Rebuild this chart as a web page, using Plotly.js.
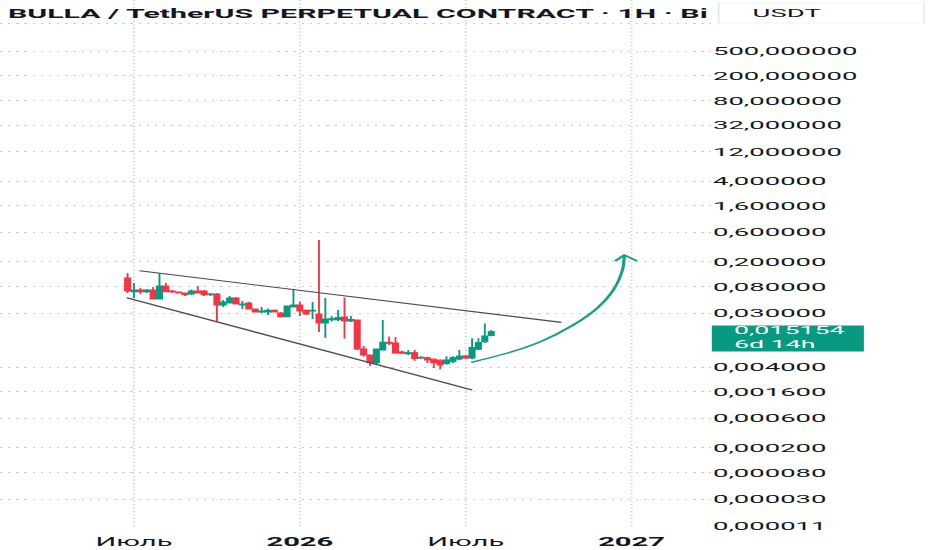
<!DOCTYPE html>
<html>
<head>
<meta charset="utf-8">
<script src="https://cdn.plot.ly/plotly-3.0.1.min.js"></script>
<style>
  html, body { margin: 0; padding: 0; background: #ffffff; overflow: hidden; }
  #wrap { width: 400px; height: 550px; transform: scaleX(2.33); transform-origin: 0 0; }
</style>
</head>
<body>
<div id="wrap"></div>
<script>
// ---- data (weekly candles, BULLA/USDT) ----
const dates = [
  '2025-06-30','2025-07-07','2025-07-14','2025-07-21','2025-07-28','2025-08-04','2025-08-11','2025-08-18',
  '2025-08-25','2025-09-01','2025-09-08','2025-09-15','2025-09-22','2025-09-29','2025-10-06','2025-10-13',
  '2025-10-20','2025-10-27','2025-11-03','2025-11-10','2025-11-17','2025-11-24','2025-12-01','2025-12-08',
  '2025-12-15','2025-12-22','2025-12-29','2026-01-05','2026-01-12','2026-01-19','2026-01-26','2026-02-02',
  '2026-02-09','2026-02-16','2026-02-23','2026-03-02','2026-03-09','2026-03-16','2026-03-23','2026-03-30',
  '2026-04-06','2026-04-13','2026-04-20','2026-04-27','2026-05-04','2026-05-11','2026-05-18','2026-05-25',
  '2026-06-01','2026-06-08','2026-06-15','2026-06-22','2026-06-29','2026-07-06','2026-07-13','2026-07-20',
  '2026-07-27','2026-08-03'
];
const opens = [
  0.110, 0.0655, 0.0705, 0.0655, 0.0705, 0.0505, 0.0818, 0.0679,
  0.0655, 0.0631, 0.0608, 0.0679, 0.0679, 0.0586, 0.0608, 0.0404,
  0.0435, 0.0524, 0.0404, 0.0435, 0.0348, 0.0311, 0.0311, 0.0335,
  0.0300, 0.0259, 0.0375, 0.0404, 0.0335, 0.0323, 0.0289, 0.0207,
  0.0232, 0.0232, 0.0259, 0.0223, 0.0232, 0.00788, 0.0063, 0.00469,
  0.00759, 0.0102, 0.00984, 0.0071, 0.00655, 0.0069, 0.0056, 0.0057,
  0.0054, 0.0052, 0.0046, 0.0049, 0.0054, 0.0061, 0.0056, 0.0078,
  0.0103, 0.0129
];
const highs = [
  0.1325, 0.0914, 0.0759, 0.0732, 0.0788, 0.1325, 0.0914, 0.0705,
  0.0667, 0.0631, 0.0720, 0.0818, 0.0705, 0.0631, 0.0631, 0.0486,
  0.0564, 0.0544, 0.0468, 0.0451, 0.0355, 0.0375, 0.0355, 0.0341,
  0.0311, 0.0396, 0.0732, 0.0451, 0.0341, 0.0451, 0.451, 0.0524,
  0.0268, 0.0335, 0.0534, 0.0268, 0.0236, 0.0088, 0.0063, 0.00788,
  0.0232, 0.0125, 0.0123, 0.0074, 0.0076, 0.0076, 0.0060, 0.0059,
  0.0056, 0.0054, 0.0060, 0.0060, 0.0076, 0.0063, 0.0117, 0.0117,
  0.0204, 0.0160
];
const lows = [
  0.0631, 0.0524, 0.0608, 0.0631, 0.0495, 0.0505, 0.0650, 0.0631,
  0.0620, 0.0564, 0.0586, 0.0620, 0.0564, 0.0564, 0.0215, 0.0375,
  0.0427, 0.0411, 0.0348, 0.0341, 0.0305, 0.0300, 0.0279, 0.0305,
  0.0254, 0.0259, 0.0368, 0.0268, 0.0279, 0.0240, 0.0148, 0.0119,
  0.0219, 0.0223, 0.0116, 0.0215, 0.0076, 0.00595, 0.00419, 0.0045,
  0.00759, 0.0091, 0.0066, 0.0066, 0.0063, 0.0051, 0.0055, 0.0047,
  0.0039, 0.0037, 0.0044, 0.0047, 0.0052, 0.0054, 0.0054, 0.0076,
  0.0098, 0.0127
];
const closes = [
  0.0679, 0.0705, 0.0655, 0.0705, 0.0505, 0.0818, 0.0655, 0.0655,
  0.0631, 0.0586, 0.0679, 0.0631, 0.0586, 0.0608, 0.0404, 0.0451,
  0.0524, 0.0419, 0.0419, 0.0348, 0.0311, 0.0323, 0.0335, 0.0311,
  0.0259, 0.0389, 0.0404, 0.0323, 0.0289, 0.0335, 0.0207, 0.0240,
  0.0244, 0.0254, 0.0223, 0.0236, 0.00788, 0.0063, 0.00469, 0.00788,
  0.0102, 0.0097, 0.00679, 0.0067, 0.0069, 0.0055, 0.0058, 0.00524,
  0.0047, 0.00435, 0.00524, 0.0057, 0.0061, 0.0056, 0.0084, 0.0101,
  0.0128, 0.015154
];

// price scale ticks (top level sits hidden under the currency box)
const priceTicks = [1400, 500, 200, 80, 32, 12, 4, 1.6, 0.6, 0.2, 0.08, 0.03,
                    0.004, 0.0016, 0.0006, 0.0002, 0.00008, 0.00003, 0.000011];
const priceTickLabels = ['', '500,000000', '200,000000', '80,000000', '32,000000',
  '12,000000', '4,000000', '1,600000', '0,600000', '0,200000', '0,080000', '0,030000',
  '0,004000', '0,001600', '0,000600', '0,000200', '0,000080', '0,000030', '0,000011'];

// time scale ticks
const timeTicks = ['2025-07-07', '2026-01-05', '2026-07-06', '2027-01-04'];
const timeTickLabels = ['Июль', '<b>2026</b>', 'Июль', '<b>2027</b>'];

// drawings (falling wedge + target arrow)
const upperLineDates = ['2025-07-13', '2026-10-19'];
const upperLinePrices = [0.144, 0.0212];
const lowerLineDates = ['2025-06-29', '2026-07-13'];
const lowerLinePrices = [0.053, 0.00172];
const arrowDates = ['2026-07-12', '2026-08-20', '2026-09-26', '2026-11-01', '2026-11-27',
                    '2026-12-15', '2026-12-25', '2026-12-27'];
const arrowPrices = [0.00481, 0.00672, 0.01033, 0.0192, 0.0357, 0.0705, 0.148, 0.258];
const arrowHeadDates = ['2026-12-17', '2026-12-27', '2027-01-10'];
const arrowHeadPrices = [0.207, 0.258, 0.207];

const titleText = 'BULLA / TetherUS PERPETUAL CONTRACT · 1H · Bi';
const currencyText = 'USDT';
const countdownText = '6d 14h';

// ---- layout constants ----
const W = 400, H = 550;
const PLOT_W = 304.7, PLOT_H = 527;
const Y_RANGE = [-4.9745, 3.5255];
const X_RANGE = ['2025-02-10', '2027-03-31 19:00'];
const UP = '#089981', DOWN = '#F23645';
const TXT = '#131722';
const GRID = '#c9ccd3';
const DOTS = '1px,2.5px';

const last = closes[closes.length - 1];
const lastLog = Math.log10(last);
const lastFrac = (lastLog - Y_RANGE[0]) / (Y_RANGE[1] - Y_RANGE[0]);
const lastLabel = last.toFixed(6).replace('.', ',');

const traces = [
  {
    type: 'candlestick', x: dates, open: opens, high: highs, low: lows, close: closes,
    increasing: { line: { color: UP, width: 0.8 }, fillcolor: UP },
    decreasing: { line: { color: DOWN, width: 0.8 }, fillcolor: DOWN },
    whiskerwidth: 0, hoverinfo: 'skip', showlegend: false
  },
  {
    type: 'scatter', mode: 'lines', x: upperLineDates, y: upperLinePrices,
    line: { color: '#4d4d4d', width: 1.15 }, hoverinfo: 'skip', showlegend: false
  },
  {
    type: 'scatter', mode: 'lines', x: lowerLineDates, y: lowerLinePrices,
    line: { color: '#4d4d4d', width: 1.15 }, hoverinfo: 'skip', showlegend: false
  },
  {
    type: 'scatter', mode: 'lines', x: arrowDates, y: arrowPrices,
    line: { color: '#1f9e87', width: 1.4, shape: 'spline', smoothing: 1 },
    hoverinfo: 'skip', showlegend: false
  },
  {
    type: 'scatter', mode: 'lines', x: arrowHeadDates, y: arrowHeadPrices,
    line: { color: '#1f9e87', width: 1.4 }, hoverinfo: 'skip', showlegend: false
  }
];

const layout = {
  width: W, height: H,
  margin: { l: 0, r: W - PLOT_W, t: 0, b: H - PLOT_H, pad: 0 },
  paper_bgcolor: '#ffffff', plot_bgcolor: '#ffffff',
  showlegend: false,
  boxgap: 0.1, boxgroupgap: 0.1,
  title: {
    text: titleText, xref: 'container', x: 3.4 / W, xanchor: 'left',
    yref: 'container', y: 1 - 13.5 / H, yanchor: 'middle',
    font: { family: 'Roboto', size: 13, weight: 700, color: TXT }
  },
  xaxis: {
    type: 'date', range: X_RANGE, rangeslider: { visible: false },
    tickmode: 'array', tickvals: timeTicks, ticktext: timeTickLabels,
    showgrid: true, gridcolor: GRID, griddash: DOTS, gridwidth: 0.8,
    zeroline: false, showline: false, ticks: '', ticklabelstandoff: 6,
    tickfont: { family: 'Roboto', size: 12.5, color: TXT }, automargin: false, fixedrange: true
  },
  yaxis: {
    type: 'log', range: Y_RANGE, side: 'right',
    tickmode: 'array', tickvals: priceTicks, ticktext: priceTickLabels,
    showgrid: true, gridcolor: GRID, griddash: DOTS, gridwidth: 1,
    zeroline: false, showline: false, ticks: '', ticklabelstandoff: 7.5,
    tickfont: { family: 'Roboto', size: 11.8, color: TXT }, automargin: false, fixedrange: true
  },
  shapes: [
    { type: 'line', xref: 'paper', x0: 0, x1: 1, yref: 'y', y0: lastLog, y1: lastLog,
      line: { color: UP, width: 1, dash: DOTS }, layer: 'below' },
    { type: 'rect', xref: 'paper', x0: 1 + 0.5 / PLOT_W, x1: 1 + 65.7 / PLOT_W,
      yref: 'paper', y0: lastFrac - 20 / PLOT_H, y1: lastFrac + 6 / PLOT_H,
      fillcolor: UP, line: { width: 0 }, layer: 'above' },
    { type: 'rect', xref: 'paper', x0: 1 + 3.5 / PLOT_W, x1: 1 + 91.4 / PLOT_W,
      yref: 'paper', y0: 1 - 23 / PLOT_H, y1: 1 - 3 / PLOT_H,
      fillcolor: '#ffffff', line: { color: '#e3e5ea', width: 0.6 }, layer: 'above' }
  ],
  annotations: [
    { xref: 'paper', x: 1 + 15.5 / PLOT_W, xanchor: 'left', yref: 'paper', y: 1 - 13 / PLOT_H,
      yanchor: 'middle', text: currencyText, showarrow: false,
      font: { family: 'Roboto', size: 11.8, color: TXT } },
    { xref: 'paper', x: 1 + 8.6 / PLOT_W, xanchor: 'left', yref: 'y', y: lastLog, yshift: 1.5,
      yanchor: 'middle', text: lastLabel, showarrow: false, borderpad: 0,
      font: { family: 'Roboto', size: 11.5, color: '#ffffff' } },
    { xref: 'paper', x: 1 + 8.6 / PLOT_W, xanchor: 'left', yref: 'y', y: lastLog, yshift: -13,
      yanchor: 'middle', text: countdownText, showarrow: false, borderpad: 0,
      font: { family: 'Roboto', size: 11.5, color: '#ffffff' } }
  ]
};

Plotly.newPlot('wrap', traces, layout, { displayModeBar: false, staticPlot: true, responsive: false });
</script>
</body>
</html>
